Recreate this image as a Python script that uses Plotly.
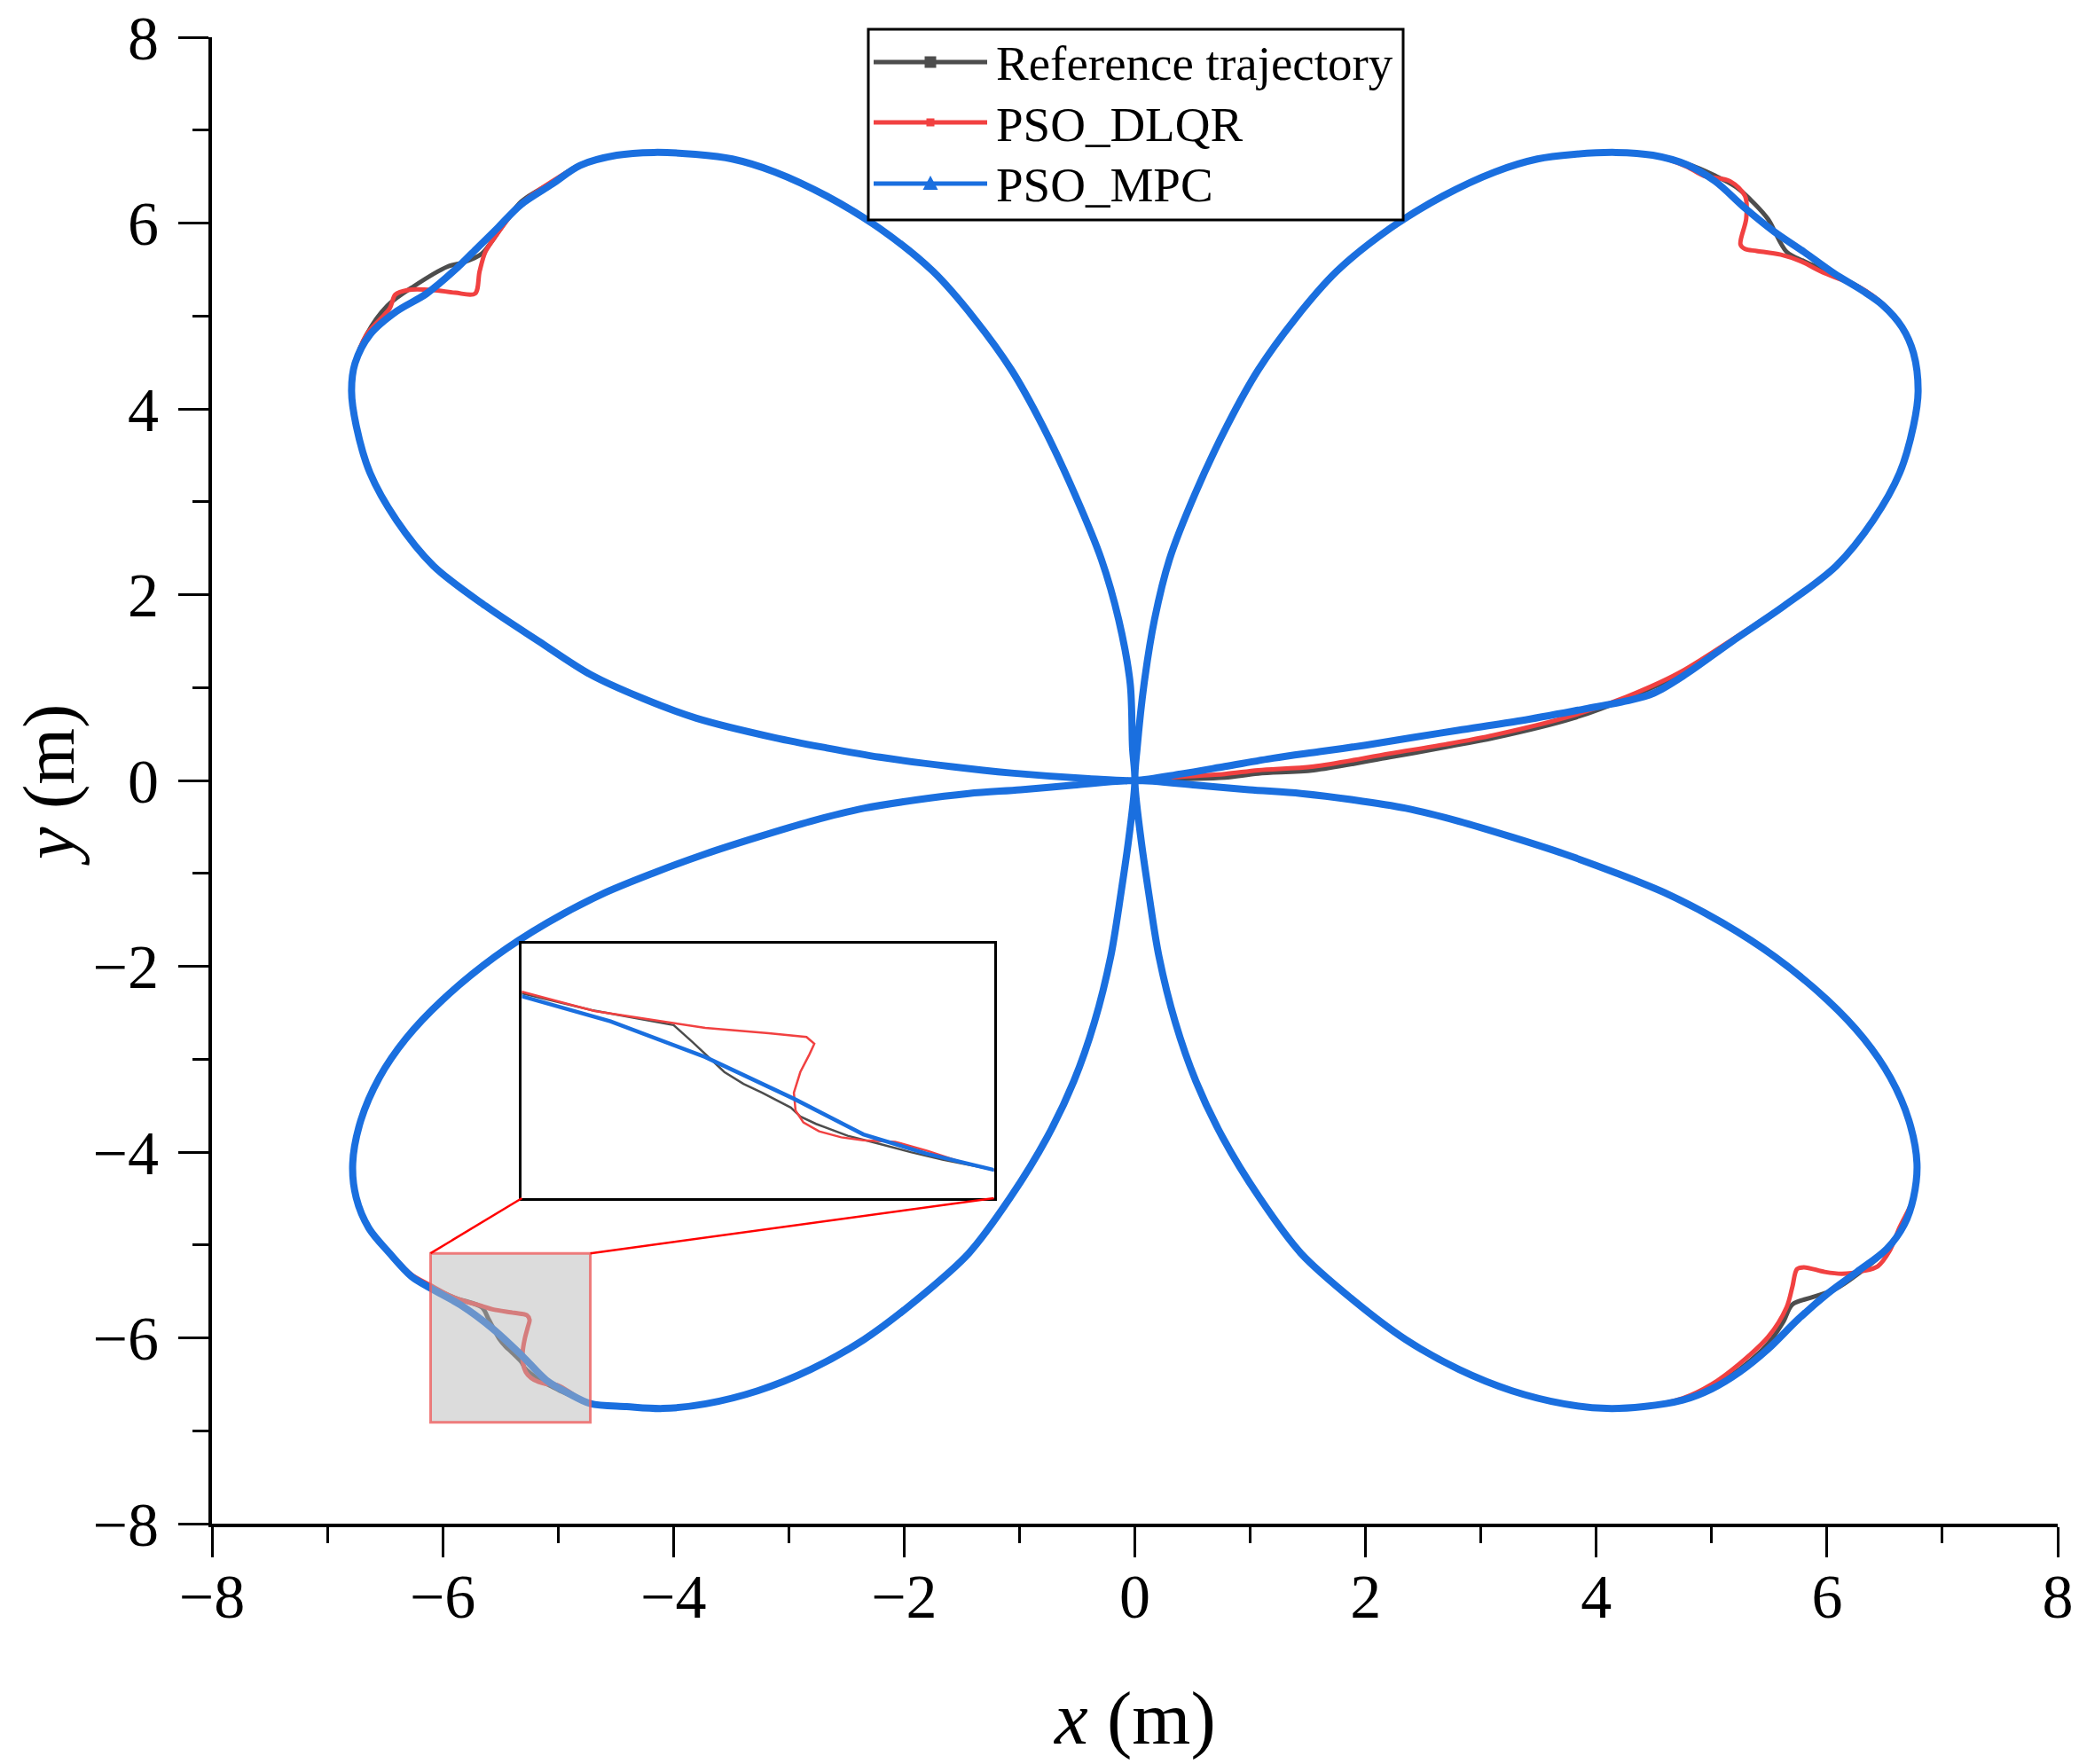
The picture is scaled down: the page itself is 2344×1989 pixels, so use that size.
import plotly.graph_objects as go

# ---------------- data (x, y in metres) ----------------
# Each petal is listed in the order the trajectory runs through it (all start/end at the origin).

# Reference trajectory
REF_TR = [(0, 0), (0.40, 0.015), (0.78, 0.03), (1.07, 0.075), (1.55, 0.11), (2.21, 0.25), (2.70, 0.36),
          (3.12, 0.46), (3.80, 0.67), (4.26, 0.88), (4.72, 1.14), (5.17, 1.50), (5.63, 1.88), (6.08, 2.31),
          (6.40, 2.80), (6.63, 3.31), (6.75, 3.82), (6.79, 4.19), (6.75, 4.60), (6.65, 4.88), (6.50, 5.11),
          (6.28, 5.31), (6.06, 5.45), (5.80, 5.59), (5.65, 5.69), (5.49, 6.04), (5.37, 6.21), (5.21, 6.39),
          (5.03, 6.51), (4.78, 6.64), (4.49, 6.73), (4.17, 6.76), (3.81, 6.74), (3.49, 6.69), (3.12, 6.55),
          (2.67, 6.29), (2.21, 5.94), (1.75, 5.48), (1.39, 4.97), (1.07, 4.42), (0.80, 3.82), (0.52, 3.08),
          (0.30, 2.38), (0.17, 1.73), (0.08, 1.04), (0.02, 0.35), (0, 0)]
REF_BR = [(0, 0), (0.05, -0.60), (0.12, -1.21), (0.21, -1.90), (0.35, -2.60), (0.53, -3.24), (0.76, -3.84),
          (1.08, -4.49), (1.44, -5.09), (1.90, -5.60), (2.35, -6.02), (2.81, -6.34), (3.27, -6.57), (3.72, -6.71),
          (4.09, -6.76), (4.41, -6.74), (4.75, -6.66), (5.00, -6.53), (5.24, -6.34), (5.49, -6.06), (5.62, -5.83),
          (5.70, -5.64), (5.88, -5.56), (6.08, -5.47), (6.26, -5.32), (6.52, -5.05), (6.67, -4.79), (6.75, -4.49),
          (6.78, -4.12), (6.71, -3.66), (6.55, -3.20), (6.32, -2.78), (6.00, -2.36), (5.55, -1.90), (5.09, -1.53),
          (4.63, -1.23), (4.18, -1.00), (3.72, -0.79), (3.27, -0.61), (2.81, -0.44), (2.35, -0.30), (1.90, -0.21),
          (1.44, -0.14), (0.99, -0.10), (0.53, -0.05), (0, 0)]
REF_BL = [(0, 0), (-0.53, -0.05), (-0.99, -0.10), (-1.44, -0.14), (-1.90, -0.21), (-2.35, -0.30), (-2.81, -0.44),
          (-3.27, -0.61), (-3.72, -0.79), (-4.18, -1.00), (-4.63, -1.23), (-5.09, -1.53), (-5.55, -1.90),
          (-6.00, -2.36), (-6.32, -2.78), (-6.55, -3.20), (-6.71, -3.66), (-6.78, -4.12), (-6.75, -4.49),
          (-6.64, -4.82), (-6.46, -5.09), (-6.27, -5.33), (-6.105, -5.445), (-5.90, -5.566), (-5.66, -5.672),
          (-5.604, -5.795), (-5.567, -5.880), (-5.511, -6.008), (-5.455, -6.093), (-5.400, -6.156),
          (-5.316, -6.262), (-5.288, -6.326), (-5.242, -6.379), (-5.149, -6.464), (-5.056, -6.522),
          (-4.964, -6.581), (-4.871, -6.634), (-4.72, -6.708), (-4.405, -6.74), (-4.09, -6.76), (-3.72, -6.71),
          (-3.27, -6.57), (-2.81, -6.34), (-2.35, -6.02), (-1.90, -5.60), (-1.44, -5.09), (-1.08, -4.49),
          (-0.76, -3.84), (-0.53, -3.24), (-0.35, -2.60), (-0.21, -1.90), (-0.12, -1.21), (-0.05, -0.60), (0, 0)]
REF_TL = [(0, 0), (-0.02, 0.35), (-0.04, 1.04), (-0.14, 1.73), (-0.29, 2.38), (-0.52, 3.08), (-0.80, 3.82),
          (-1.07, 4.42), (-1.39, 4.97), (-1.75, 5.48), (-2.21, 5.94), (-2.67, 6.29), (-3.12, 6.55), (-3.49, 6.69),
          (-3.81, 6.74), (-4.17, 6.76), (-4.49, 6.73), (-4.81, 6.63), (-5.05, 6.44), (-5.32, 6.23), (-5.57, 5.81),
          (-5.66, 5.67), (-5.81, 5.58), (-5.96, 5.53), (-6.25, 5.32), (-6.48, 5.11), (-6.66, 4.80), (-6.76, 4.49),
          (-6.79, 4.19), (-6.75, 3.82), (-6.63, 3.31), (-6.40, 2.80), (-6.08, 2.31), (-5.63, 1.88), (-5.17, 1.50),
          (-4.72, 1.14), (-4.26, 0.88), (-3.80, 0.67), (-3.12, 0.46), (-2.67, 0.35), (-2.21, 0.25), (-1.60, 0.15),
          (-1.07, 0.08), (-0.40, 0.02), (0, 0)]

# PSO_DLQR
DLQR_TR = [(0, 0), (0.40, 0.04), (0.78, 0.07), (1.07, 0.11), (1.55, 0.15), (2.21, 0.29), (2.70, 0.39),
           (3.12, 0.49), (3.80, 0.70), (4.26, 0.90), (4.72, 1.16), (5.17, 1.51), (5.63, 1.89), (6.08, 2.31),
           (6.40, 2.80), (6.63, 3.31), (6.75, 3.82), (6.79, 4.19), (6.75, 4.60), (6.65, 4.88), (6.50, 5.11),
           (6.28, 5.31), (5.98, 5.46), (5.77, 5.59), (5.60, 5.66), (5.39, 5.70), (5.29, 5.72), (5.25, 5.77),
           (5.30, 6.05), (5.29, 6.29), (5.16, 6.45), (4.93, 6.51), (4.78, 6.61), (4.49, 6.73), (4.17, 6.76),
           (3.81, 6.74), (3.49, 6.69), (3.12, 6.55), (2.67, 6.29), (2.21, 5.94), (1.75, 5.48), (1.39, 4.97),
           (1.07, 4.42), (0.80, 3.82), (0.52, 3.08), (0.30, 2.38), (0.17, 1.73), (0.08, 1.04), (0.02, 0.35), (0, 0)]
DLQR_BR = [(0, 0), (0.05, -0.60), (0.12, -1.21), (0.21, -1.90), (0.35, -2.60), (0.53, -3.24), (0.76, -3.84),
           (1.08, -4.49), (1.44, -5.09), (1.90, -5.60), (2.35, -6.02), (2.81, -6.34), (3.27, -6.57), (3.72, -6.71),
           (4.09, -6.76), (4.41, -6.74), (4.75, -6.65), (5.00, -6.50), (5.24, -6.28), (5.49, -5.99), (5.65, -5.67),
           (5.70, -5.45), (5.74, -5.26), (5.80, -5.24), (5.98, -5.29), (6.13, -5.31), (6.31, -5.28), (6.44, -5.23),
           (6.54, -5.07), (6.63, -4.81), (6.75, -4.49), (6.78, -4.12), (6.71, -3.66), (6.55, -3.20), (6.32, -2.78),
           (6.00, -2.36), (5.55, -1.90), (5.09, -1.53), (4.63, -1.23), (4.18, -1.00), (3.72, -0.79), (3.27, -0.61),
           (2.81, -0.44), (2.35, -0.30), (1.90, -0.21), (1.44, -0.14), (0.99, -0.10), (0.53, -0.05), (0, 0)]
DLQR_BL = [(0, 0), (-0.53, -0.05), (-0.99, -0.10), (-1.44, -0.14), (-1.90, -0.21), (-2.35, -0.30), (-2.81, -0.44),
           (-3.27, -0.61), (-3.72, -0.79), (-4.18, -1.00), (-4.63, -1.23), (-5.09, -1.53), (-5.55, -1.90),
           (-6.00, -2.36), (-6.32, -2.78), (-6.55, -3.20), (-6.71, -3.66), (-6.78, -4.12), (-6.75, -4.49),
           (-6.64, -4.82), (-6.46, -5.08), (-6.27, -5.32), (-6.105, -5.434), (-5.892, -5.572), (-5.660, -5.657),
           (-5.567, -5.693), (-5.381, -5.731), (-5.270, -5.757), (-5.247, -5.806), (-5.261, -5.880),
           (-5.288, -6.008), (-5.307, -6.156), (-5.302, -6.284), (-5.279, -6.369), (-5.233, -6.432),
           (-5.168, -6.475), (-5.103, -6.496), (-5.010, -6.507), (-4.917, -6.570), (-4.824, -6.645),
           (-4.72, -6.708), (-4.405, -6.74), (-4.09, -6.76), (-3.72, -6.71), (-3.27, -6.57), (-2.81, -6.34),
           (-2.35, -6.02), (-1.90, -5.60), (-1.44, -5.09), (-1.08, -4.49), (-0.76, -3.84), (-0.53, -3.24),
           (-0.35, -2.60), (-0.21, -1.90), (-0.12, -1.21), (-0.05, -0.60), (0, 0)]
DLQR_TL = [(0, 0), (-0.02, 0.35), (-0.04, 1.04), (-0.14, 1.73), (-0.29, 2.38), (-0.52, 3.08), (-0.80, 3.82),
           (-1.07, 4.42), (-1.39, 4.97), (-1.75, 5.48), (-2.21, 5.94), (-2.67, 6.29), (-3.12, 6.55), (-3.49, 6.69),
           (-3.81, 6.74), (-4.17, 6.76), (-4.49, 6.73), (-4.81, 6.62), (-5.05, 6.45), (-5.32, 6.21), (-5.54, 5.86),
           (-5.63, 5.69), (-5.68, 5.48), (-5.72, 5.24), (-5.89, 5.25), (-6.09, 5.28), (-6.30, 5.28), (-6.41, 5.23),
           (-6.46, 5.08), (-6.66, 4.80), (-6.76, 4.49), (-6.79, 4.19), (-6.75, 3.82), (-6.63, 3.31), (-6.40, 2.80),
           (-6.08, 2.31), (-5.63, 1.88), (-5.17, 1.50), (-4.72, 1.14), (-4.26, 0.88), (-3.80, 0.67), (-3.12, 0.46),
           (-2.67, 0.35), (-2.21, 0.25), (-1.60, 0.15), (-1.07, 0.08), (-0.40, 0.02), (0, 0)]

# PSO_MPC
MPC_TR = [(0, 0), (0.40, 0.07), (0.78, 0.15), (1.20, 0.24), (1.60, 0.31), (2.00, 0.38), (2.40, 0.46), (2.80, 0.54),
          (3.35, 0.645), (3.90, 0.77), (4.26, 0.855), (4.50, 0.94), (4.76, 1.13), (5.17, 1.49), (5.63, 1.88),
          (6.08, 2.31), (6.40, 2.80), (6.63, 3.31), (6.75, 3.82), (6.79, 4.19), (6.75, 4.60), (6.65, 4.88),
          (6.48, 5.12), (6.31, 5.27), (6.06, 5.46), (5.80, 5.69), (5.54, 5.91), (5.29, 6.16), (5.03, 6.45),
          (4.78, 6.63), (4.49, 6.73), (4.17, 6.76), (3.81, 6.74), (3.49, 6.69), (3.12, 6.55), (2.67, 6.29),
          (2.21, 5.94), (1.75, 5.48), (1.39, 4.97), (1.07, 4.42), (0.80, 3.82), (0.52, 3.08), (0.30, 2.38),
          (0.17, 1.73), (0.08, 1.04), (0.02, 0.35), (0, 0)]
MPC_BR = [(0, 0), (0.05, -0.60), (0.12, -1.21), (0.21, -1.90), (0.35, -2.60), (0.53, -3.24), (0.76, -3.84),
          (1.08, -4.49), (1.44, -5.09), (1.90, -5.60), (2.35, -6.02), (2.81, -6.34), (3.27, -6.57), (3.72, -6.71),
          (4.09, -6.76), (4.41, -6.74), (4.75, -6.67), (5.00, -6.55), (5.24, -6.37), (5.49, -6.12), (5.75, -5.80),
          (6.01, -5.52), (6.26, -5.29), (6.52, -5.04), (6.67, -4.78), (6.75, -4.49), (6.78, -4.12), (6.71, -3.66),
          (6.55, -3.20), (6.32, -2.78), (6.00, -2.36), (5.55, -1.90), (5.09, -1.53), (4.63, -1.23), (4.18, -1.00),
          (3.72, -0.79), (3.27, -0.61), (2.81, -0.44), (2.35, -0.30), (1.90, -0.21), (1.44, -0.14), (0.99, -0.10),
          (0.53, -0.05), (0, 0)]
MPC_BL = [(0, 0), (-0.53, -0.05), (-0.99, -0.10), (-1.44, -0.14), (-1.90, -0.21), (-2.35, -0.30), (-2.81, -0.44),
          (-3.27, -0.61), (-3.72, -0.79), (-4.18, -1.00), (-4.63, -1.23), (-5.09, -1.53), (-5.55, -1.90),
          (-6.00, -2.36), (-6.32, -2.78), (-6.55, -3.20), (-6.71, -3.66), (-6.78, -4.12), (-6.75, -4.49),
          (-6.64, -4.82), (-6.46, -5.09), (-6.27, -5.34), (-6.105, -5.466), (-5.845, -5.646), (-5.567, -5.901),
          (-5.307, -6.199), (-5.103, -6.454), (-4.917, -6.592), (-4.72, -6.708), (-4.405, -6.74), (-4.09, -6.76),
          (-3.72, -6.71), (-3.27, -6.57), (-2.81, -6.34), (-2.35, -6.02), (-1.90, -5.60), (-1.44, -5.09),
          (-1.08, -4.49), (-0.76, -3.84), (-0.53, -3.24), (-0.35, -2.60), (-0.21, -1.90), (-0.12, -1.21),
          (-0.05, -0.60), (0, 0)]
MPC_TL = [(0, 0), (-0.02, 0.35), (-0.04, 1.04), (-0.14, 1.73), (-0.29, 2.38), (-0.52, 3.08), (-0.80, 3.82),
          (-1.07, 4.42), (-1.39, 4.97), (-1.75, 5.48), (-2.21, 5.94), (-2.67, 6.29), (-3.12, 6.55), (-3.49, 6.69),
          (-3.81, 6.74), (-4.17, 6.76), (-4.49, 6.73), (-4.81, 6.62), (-5.05, 6.42), (-5.32, 6.20), (-5.53, 5.94),
          (-5.71, 5.72), (-5.89, 5.50), (-6.14, 5.24), (-6.40, 5.05), (-6.63, 4.80), (-6.76, 4.49), (-6.79, 4.19),
          (-6.75, 3.82), (-6.63, 3.31), (-6.40, 2.80), (-6.08, 2.31), (-5.63, 1.88), (-5.17, 1.50), (-4.72, 1.14),
          (-4.26, 0.88), (-3.80, 0.67), (-3.12, 0.46), (-2.67, 0.35), (-2.21, 0.25), (-1.60, 0.15), (-1.07, 0.08),
          (-0.40, 0.02), (0, 0)]

SERIES_NAMES = ["Reference trajectory", "PSO_DLQR", "PSO_MPC"]
X_TICKS = [-8, -6, -4, -2, 0, 2, 4, 6, 8]
Y_TICKS = [-8, -6, -4, -2, 0, 2, 4, 6, 8]
ZOOM_X = [-6.105, -4.72]   # magnified region (data units)
ZOOM_Y = [-6.91, -5.09]

# ---------------- styling ----------------
SERIF = "Liberation Serif"
COLORS = ["#4d4d4d", "#f14141", "#1a6fdf"]
MAIN_W = [5, 5, 8]
INSET_W = [2.5, 2.5, 4.5]

W, H = 2344, 1989
PLOT_L, PLOT_R, PLOT_T, PLOT_B = 239, 2320, 42, 1718   # plot area in page pixels
ML, MT = PLOT_L, PLOT_T
PW, PH = PLOT_R - PLOT_L, PLOT_B - PLOT_T
MR, MB = W - ML - PW, H - MT - PH
XR, YR = [-8, 8], [-8, 8]

# inset box position expressed in main-axis data units
INSET_X = [-5.313, -1.222]
INSET_Y = [-4.496, -1.757]


def px_x(p):
    return (p - PLOT_L) / PW


def px_y(p):
    return (PLOT_B - p) / PH


def chain(*petals):
    out = list(petals[0])
    for p in petals[1:]:
        out += p[1:]
    return out


PATHS = [chain(REF_TR, REF_BR, REF_BL, REF_TL),
         chain(DLQR_TR, DLQR_BR, DLQR_BL, DLQR_TL),
         chain(MPC_TR, MPC_BR, MPC_BL, MPC_TL)]

fig = go.Figure()
for name, pts, col, w in zip(SERIES_NAMES, PATHS, COLORS, MAIN_W):
    fig.add_trace(go.Scatter(x=[p[0] for p in pts], y=[p[1] for p in pts], mode="lines", name=name,
                             line=dict(color=col, width=w, shape="spline", smoothing=0.9),
                             showlegend=False, xaxis="x", yaxis="y", hoverinfo="skip"))
for name, pts, col, w in zip(SERIES_NAMES, PATHS, COLORS, INSET_W):
    fig.add_trace(go.Scatter(x=[p[0] for p in pts], y=[p[1] for p in pts], mode="lines", name=name,
                             line=dict(color=col, width=w), showlegend=False,
                             xaxis="x2", yaxis="y2", hoverinfo="skip"))

tickfont = dict(family=SERIF, size=70, color="black")
axis_common = dict(showline=True, linewidth=4, linecolor="black", mirror=False, showgrid=False,
                   zeroline=False, ticks="outside", ticklen=34, tickwidth=3, tickcolor="black",
                   tickmode="array", tickfont=tickfont, automargin=False, ticklabeloverflow="allow",
                   minor=dict(dtick=1, ticks="outside", ticklen=18, tickwidth=3, tickcolor="black"))

fig.update_layout(
    width=W, height=H, autosize=False,
    margin=dict(l=ML, r=MR, t=MT, b=MB, pad=0, autoexpand=False),
    paper_bgcolor="white", plot_bgcolor="white",
    showlegend=False,
    xaxis=dict(range=XR, domain=[0, 1], anchor="y", tickvals=X_TICKS, ticklabelstandoff=-16, **axis_common),
    yaxis=dict(range=YR, domain=[0, 1], anchor="x", tickvals=Y_TICKS, ticklabelstandoff=8, **axis_common),
    xaxis2=dict(range=ZOOM_X, domain=[(INSET_X[0] - XR[0]) / 16, (INSET_X[1] - XR[0]) / 16], anchor="y2",
                showline=True, mirror=True, linewidth=3, linecolor="black", showticklabels=False,
                ticks="", showgrid=False, zeroline=False, automargin=False),
    yaxis2=dict(range=ZOOM_Y, domain=[(INSET_Y[0] - YR[0]) / 16, (INSET_Y[1] - YR[0]) / 16], anchor="x2",
                showline=True, mirror=True, linewidth=3, linecolor="black", showticklabels=False,
                ticks="", showgrid=False, zeroline=False, automargin=False),
)

shapes = []
# magnified region + connectors
shapes.append(dict(type="rect", xref="x", yref="y", x0=ZOOM_X[0], x1=ZOOM_X[1], y0=ZOOM_Y[0], y1=ZOOM_Y[1],
                   fillcolor="rgba(185,185,185,0.5)", line=dict(color="rgba(238,95,95,0.8)", width=3),
                   layer="above"))
shapes.append(dict(type="line", xref="x", yref="y", x0=ZOOM_X[0], y0=ZOOM_Y[1], x1=INSET_X[0], y1=INSET_Y[0],
                   line=dict(color="red", width=2.5), layer="above"))
shapes.append(dict(type="line", xref="x", yref="y", x0=ZOOM_X[1], y0=ZOOM_Y[1], x1=INSET_X[1], y1=INSET_Y[0],
                   line=dict(color="red", width=2.5), layer="above"))

# legend (drawn by hand so the sample lines match the original length)
LEG_BOX = (979, 33, 1582, 248)
LEG_ROWS = [70, 138, 207]
LEG_LINE = (985, 1113)
LEG_MARK_X = 1049
shapes.append(dict(type="rect", xref="paper", yref="paper", x0=px_x(LEG_BOX[0]), x1=px_x(LEG_BOX[2]),
                   y0=px_y(LEG_BOX[3]), y1=px_y(LEG_BOX[1]), fillcolor="white",
                   line=dict(color="black", width=3), layer="above"))
for i, (ry, col) in enumerate(zip(LEG_ROWS, COLORS)):
    shapes.append(dict(type="line", xref="paper", yref="paper", x0=px_x(LEG_LINE[0]), x1=px_x(LEG_LINE[1]),
                       y0=px_y(ry), y1=px_y(ry), line=dict(color=col, width=5), layer="above"))
    if i == 0:
        s = 6.5
        shapes.append(dict(type="rect", xref="paper", yref="paper", x0=px_x(LEG_MARK_X - s), x1=px_x(LEG_MARK_X + s),
                           y0=px_y(ry + s), y1=px_y(ry - s), fillcolor=col, line=dict(width=0), layer="above"))
    elif i == 1:
        s = 4.5
        shapes.append(dict(type="rect", xref="paper", yref="paper", x0=px_x(LEG_MARK_X - s), x1=px_x(LEG_MARK_X + s),
                           y0=px_y(ry + s), y1=px_y(ry - s), fillcolor=col, line=dict(width=0), layer="above"))
    else:
        pth = "M {:.5f},{:.5f} L {:.5f},{:.5f} L {:.5f},{:.5f} Z".format(
            px_x(LEG_MARK_X - 8.5), px_y(ry + 7), px_x(LEG_MARK_X + 8.5), px_y(ry + 7),
            px_x(LEG_MARK_X), px_y(ry - 9))
        shapes.append(dict(type="path", xref="paper", yref="paper", path=pth, fillcolor=col,
                           line=dict(width=0), layer="above"))

annotations = []
for ry, name in zip(LEG_ROWS, SERIES_NAMES):
    annotations.append(dict(xref="paper", yref="paper", x=px_x(1121), y=px_y(ry + 2), text=name,
                            showarrow=False, xanchor="left", yanchor="middle",
                            font=dict(family=SERIF, size=55, color="black")))
annotations.append(dict(xref="paper", yref="paper", x=px_x(1279), y=px_y(1937), text="<i>x</i> (m)",
                        showarrow=False, xanchor="center", yanchor="middle",
                        font=dict(family=SERIF, size=85, color="black")))
annotations.append(dict(xref="paper", yref="paper", x=px_x(56), y=px_y(885), text="<i>y</i> (m)",
                        showarrow=False, xanchor="center", yanchor="middle", textangle=-90,
                        font=dict(family=SERIF, size=82, color="black")))

fig.update_layout(shapes=shapes, annotations=annotations)
# the page body must not add its default 8 px margin around the figure
fig.write_html("out.html", config={"displayModeBar": False},
               post_script="document.body.style.margin='0';document.body.style.overflow='hidden';")
